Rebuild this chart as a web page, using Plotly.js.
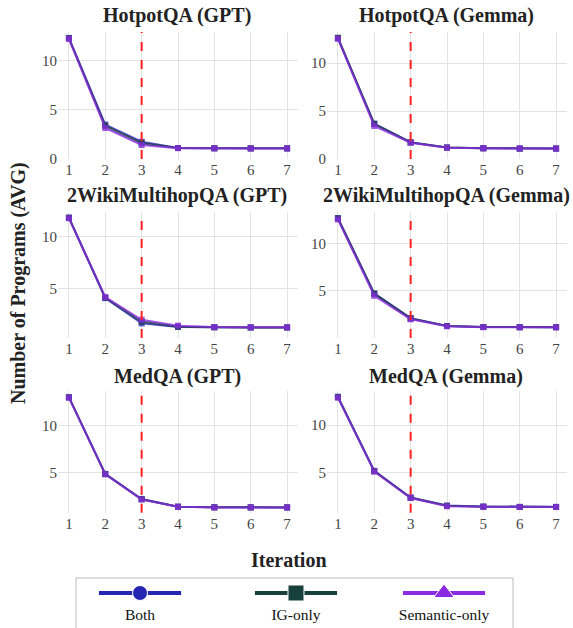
<!DOCTYPE html>
<html>
<head>
<meta charset="utf-8">
<script src="https://cdn.plot.ly/plotly-3.0.1.min.js"></script>
<style>html,body{margin:0;padding:0;background:#fff;}#chart{width:573px;height:628px;}</style>
</head>
<body>
<div id="chart"></div>
<script>
// ---- data ----
const iterations = [1, 2, 3, 4, 5, 6, 7];
const panelTitles = ["HotpotQA (GPT)", "HotpotQA (Gemma)", "2WikiMultihopQA (GPT)", "2WikiMultihopQA (Gemma)", "MedQA (GPT)", "MedQA (Gemma)"];
const seriesNames = ["Both", "IG-only", "Semantic-only"];
const seriesColors = ["#2626b5", "#173f3c", "#8a2be2"];
const legendSymbols = ["circle", "square", "triangle-up"];

const hotpotGptBoth     = [12.30, 3.50, 1.75, 1.12, 1.09, 1.08, 1.08];
const hotpotGptIG       = [12.25, 3.35, 1.60, 1.12, 1.09, 1.08, 1.08];
const hotpotGptSem      = [12.20, 3.15, 1.42, 1.10, 1.08, 1.07, 1.07];

const hotpotGemmaBoth   = [12.60, 3.70, 1.75, 1.20, 1.12, 1.09, 1.09];
const hotpotGemmaIG     = [12.65, 3.65, 1.72, 1.20, 1.12, 1.09, 1.09];
const hotpotGemmaSem    = [12.55, 3.45, 1.70, 1.18, 1.11, 1.09, 1.09];

const wikiGptBoth       = [11.85, 4.05, 1.60, 1.25, 1.22, 1.20, 1.20];
const wikiGptIG         = [11.85, 4.10, 1.78, 1.28, 1.22, 1.20, 1.20];
const wikiGptSem        = [11.80, 4.15, 1.95, 1.38, 1.25, 1.22, 1.22];

const wikiGemmaBoth     = [12.65, 4.75, 2.15, 1.33, 1.22, 1.20, 1.20];
const wikiGemmaIG       = [12.60, 4.70, 2.12, 1.33, 1.22, 1.20, 1.20];
const wikiGemmaSem      = [12.50, 4.50, 2.03, 1.30, 1.20, 1.20, 1.20];

const medGptBoth        = [13.00, 4.90, 2.25, 1.44, 1.37, 1.36, 1.36];
const medGptIG          = [12.98, 4.88, 2.22, 1.43, 1.37, 1.36, 1.36];
const medGptSem         = [12.95, 4.85, 2.20, 1.42, 1.36, 1.36, 1.36];

const medGemmaBoth      = [13.00, 5.20, 2.40, 1.55, 1.45, 1.42, 1.42];
const medGemmaIG        = [12.95, 5.17, 2.37, 1.52, 1.43, 1.40, 1.40];
const medGemmaSem       = [12.90, 5.12, 2.35, 1.48, 1.42, 1.40, 1.40];

const switchIteration = 3;

// ---- build ----
const panels = [
  [hotpotGptBoth, hotpotGptIG, hotpotGptSem],
  [hotpotGemmaBoth, hotpotGemmaIG, hotpotGemmaSem],
  [wikiGptBoth, wikiGptIG, wikiGptSem],
  [wikiGemmaBoth, wikiGemmaIG, wikiGemmaSem],
  [medGptBoth, medGptIG, medGptSem],
  [medGemmaBoth, medGemmaIG, medGemmaSem]
];
const yRanges = [[0, 12.9], [0, 13.25], [0.18, 12.4], [0.07, 13.28], [0.8, 13.65], [0.8, 13.6]];

const W = 573, H = 628;
const colDom = [[58 / W, 298 / W], [327 / W, 567 / W]];
const rowPx = [[32, 159], [212, 338], [391, 512.7]];
const rowDom = rowPx.map(r => [1 - r[1] / H, 1 - r[0] / H]);
const titleY = [15, 195.5, 376.5];

const serif = "Liberation Serif";
const traces = [];
const layout = {
  width: W, height: H,
  margin: {l: 0, r: 0, t: 0, b: 0},
  paper_bgcolor: "#fff", plot_bgcolor: "#fff",
  showlegend: false,
  font: {family: serif, color: "#444"},
  shapes: [], annotations: []
};

panels.forEach((series, i) => {
  const row = Math.floor(i / 2), col = i % 2;
  const n = i + 1;
  const xa = n === 1 ? "x" : "x" + n;
  const ya = n === 1 ? "y" : "y" + n;
  series.forEach((vals, s) => {
    traces.push({
      type: "scatter", mode: "lines+markers",
      x: iterations, y: vals, xaxis: xa, yaxis: ya,
      name: seriesNames[s], opacity: 0.8,
      line: {color: seriesColors[s], width: 2},
      marker: {symbol: "square", size: 6, color: seriesColors[s]},
      hoverinfo: "skip"
    });
  });
  const axKey = n === 1 ? "" : String(n);
  layout["xaxis" + axKey] = {
    domain: colDom[col], range: [0.7, 7.3], anchor: ya,
    tickmode: "array", tickvals: iterations, ticktext: iterations.map(String),
    showgrid: true, gridcolor: "#e3e3e3", gridwidth: 1, zeroline: false,
    showline: false, ticks: "", tickfont: {family: serif, size: 15, color: "#444"}
  };
  layout["yaxis" + axKey] = {
    domain: rowDom[row], range: yRanges[i], anchor: xa,
    tickmode: "linear", tick0: 0, dtick: 5,
    showgrid: true, gridcolor: "#e3e3e3", gridwidth: 1, zeroline: false,
    showline: false, ticks: "", tickfont: {family: serif, size: 15, color: "#444"}
  };
  layout.shapes.push({
    type: "line", xref: xa, yref: ya + " domain",
    x0: switchIteration, x1: switchIteration, y0: 0, y1: 1,
    line: {color: "#ff2020", width: 2, dash: "dash"}
  });
  layout.annotations.push({
    xref: "paper", yref: "paper",
    x: (colDom[col][0] + colDom[col][1]) / 2 - 1 / W, y: 1 - titleY[row] / H,
    xanchor: "center", yanchor: "middle", showarrow: false,
    text: "<b>" + panelTitles[i] + "</b>",
    font: {family: serif, size: 20, color: "#222"}
  });
});

// axis titles
layout.annotations.push({
  xref: "paper", yref: "paper", x: 18 / W, y: 1 - 283 / H,
  xanchor: "center", yanchor: "middle", showarrow: false, textangle: -90,
  text: "<b>Number of Programs (AVG)</b>",
  font: {family: serif, size: 20, color: "#222"}
});
layout.annotations.push({
  xref: "paper", yref: "paper", x: 289 / W, y: 1 - 560 / H,
  xanchor: "center", yanchor: "middle", showarrow: false,
  text: "<b>Iteration</b>",
  font: {family: serif, size: 20, color: "#222"}
});

// legend box
layout.shapes.push({
  type: "rect", xref: "paper", yref: "paper",
  x0: 76 / W, x1: 513 / W, y0: -0.02, y1: 1 - 578 / H,
  line: {color: "#bdbdbd", width: 1}, fillcolor: "rgba(0,0,0,0)"
});
// legend as its own small hidden subplot
layout.xaxis7 = {domain: [76 / W, 513 / W], range: [0, 1], visible: false, fixedrange: true, anchor: "y7"};
layout.yaxis7 = {domain: [0, 50 / H], range: [0, 1], visible: false, fixedrange: true, anchor: "x7"};
const legendCenters = [0.1465, 0.5034, 0.8421];
const legendHalf = 0.094;
const legendSizes = [15, 16, 18];
seriesNames.forEach((name, s) => {
  const c = legendCenters[s];
  traces.push({
    type: "scatter", mode: "lines", x: [c - legendHalf, c + legendHalf], y: [0.7, 0.7],
    xaxis: "x7", yaxis: "y7", line: {color: seriesColors[s], width: 4}, hoverinfo: "skip"
  });
  traces.push({
    type: "scatter", mode: "markers+text", x: [c, c], y: [0.7, 0.24],
    xaxis: "x7", yaxis: "y7",
    marker: {symbol: legendSymbols[s], size: [legendSizes[s], 0], color: seriesColors[s], opacity: 1},
    text: ["", name], textposition: "middle center",
    textfont: {family: serif, size: 15.5, color: "#111"}, hoverinfo: "skip"
  });
});

Plotly.newPlot("chart", traces, layout, {displayModeBar: false, staticPlot: true});
</script>
</body>
</html>
